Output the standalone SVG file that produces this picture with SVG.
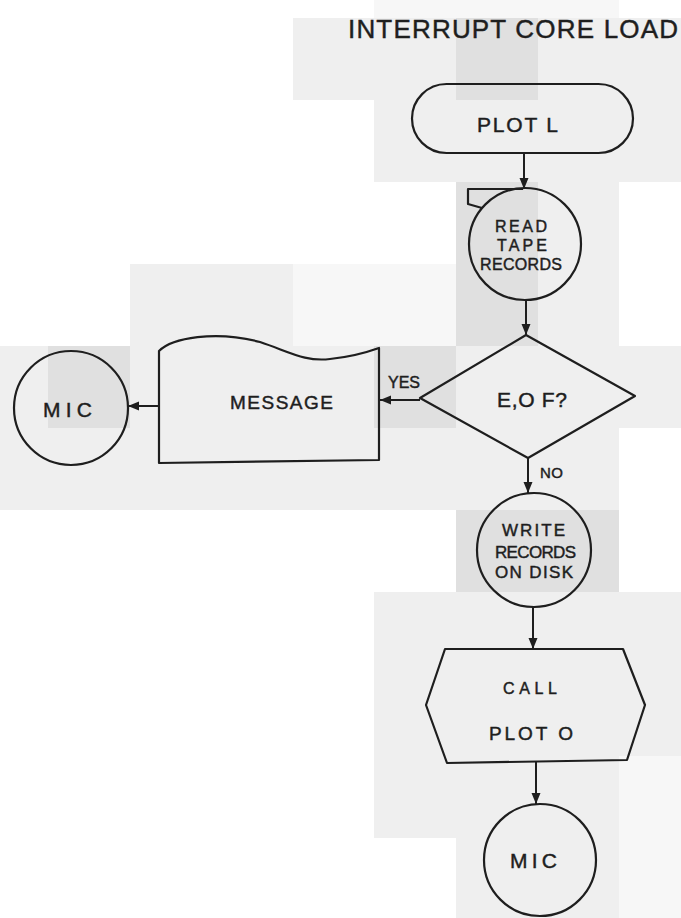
<svg xmlns="http://www.w3.org/2000/svg" width="681" height="918" viewBox="0 0 681 918">
<style>
.bg1{fill:#efefef}
.bg2{fill:#e0e0e0}
.bg3{fill:#f7f7f7}
.shape{fill:none;stroke:#1e1e1e;stroke-width:2.2;stroke-linejoin:round}
.conn{fill:none;stroke:#1e1e1e;stroke-width:2}
text{font-family:"Liberation Sans","DejaVu Sans",Arial,sans-serif;fill:#1e1e1e;stroke:#1e1e1e;stroke-width:0.45}
</style>
<defs>
<marker id="arr" markerUnits="userSpaceOnUse" markerWidth="12" markerHeight="12" viewBox="0 0 12 12" refX="11" refY="6" orient="auto">
<path d="M0,1.5 L11,6 L0,10.5 Z" fill="#1e1e1e"/>
</marker>
</defs>
<g id="background">
<rect class="bg3" x="374" y="0" width="245" height="18"/>
<rect class="bg1" x="293" y="18" width="388" height="82"/>
<rect class="bg2" x="456" y="18" width="82" height="82"/>
<rect class="bg1" x="374" y="100" width="307" height="82"/>
<rect class="bg1" x="538" y="182" width="81" height="164"/>
<rect class="bg2" x="456" y="182" width="82" height="164"/>
<rect class="bg1" x="130" y="264" width="163" height="82"/>
<rect class="bg3" x="293" y="264" width="163" height="82"/>
<rect class="bg1" x="0" y="346" width="681" height="82"/>
<rect class="bg2" x="48" y="346" width="82" height="82"/>
<rect class="bg2" x="374" y="346" width="82" height="82"/>
<rect class="bg1" x="0" y="428" width="619" height="82"/>
<rect class="bg2" x="456" y="510" width="163" height="82"/>
<rect class="bg1" x="374" y="592" width="307" height="164"/>
<rect class="bg1" x="374" y="756" width="245" height="82"/>
<rect class="bg3" x="619" y="756" width="62" height="162"/>
<rect class="bg1" x="456" y="838" width="163" height="80"/>
</g>
<g id="title">
<text x="348" y="38" font-size="26" textLength="330" lengthAdjust="spacing">INTERRUPT CORE LOAD</text>
</g>
<g id="plot-l">
<rect class="shape" x="412" y="84" width="221" height="69" rx="34.5"/>
<text x="477" y="132" font-size="21" textLength="81" lengthAdjust="spacing">PLOT L</text>
</g>
<g id="read-tape">
<circle class="shape" cx="525" cy="244" r="56"/>
<path class="shape" d="M523,189 L468,189 L468,204 L482,208"/>
<text x="495" y="232" font-size="16" textLength="52" lengthAdjust="spacing">READ</text>
<text x="497" y="251" font-size="16" textLength="50" lengthAdjust="spacing">TAPE</text>
<text x="480" y="270" font-size="16" textLength="82" lengthAdjust="spacing">RECORDS</text>
</g>
<g id="eof">
<path class="shape" d="M526,335 L635,396 L528,458 L420,398 Z"/>
<text x="497" y="407" font-size="21" textLength="70" lengthAdjust="spacing">E,O F?</text>
</g>
<g id="message">
<path class="shape" d="M159,351 C172,338 215,330 260,342 C290,352 305,362 330,359 C350,357 365,353 379,348 L379,460 L159,463 Z"/>
<text x="230" y="409" font-size="19" textLength="103" lengthAdjust="spacing">MESSAGE</text>
</g>
<g id="mic-left">
<circle class="shape" cx="71" cy="408" r="57"/>
<text x="43" y="417" font-size="21" textLength="49" lengthAdjust="spacing">MIC</text>
</g>
<g id="write-records">
<circle class="shape" cx="534" cy="550" r="57"/>
<text x="502" y="536" font-size="17" textLength="63" lengthAdjust="spacing">WRITE</text>
<text x="495" y="558" font-size="17" textLength="81" lengthAdjust="spacing">RECORDS</text>
<text x="495" y="578" font-size="17" textLength="78" lengthAdjust="spacing">ON DISK</text>
</g>
<g id="call-plot-o">
<path class="shape" d="M445,649 L623,649 L645,705 L627,760 L447,763 L426,705 Z"/>
<text x="503" y="694" font-size="16" textLength="54" lengthAdjust="spacing">CALL</text>
<text x="489" y="740" font-size="19" textLength="84" lengthAdjust="spacing">PLOT O</text>
</g>
<g id="mic-bottom">
<circle class="shape" cx="540" cy="860" r="56"/>
<text x="510" y="868" font-size="21" textLength="47" lengthAdjust="spacing">MIC</text>
</g>
<g id="connectors">
<line class="conn" x1="524" y1="153" x2="524" y2="189" marker-end="url(#arr)"/>
<line class="conn" x1="526" y1="300" x2="526" y2="335" marker-end="url(#arr)"/>
<line class="conn" x1="528" y1="458" x2="528" y2="493" marker-end="url(#arr)"/>
<line class="conn" x1="533" y1="607" x2="533" y2="649" marker-end="url(#arr)"/>
<line class="conn" x1="536" y1="762" x2="536" y2="804" marker-end="url(#arr)"/>
<line class="conn" x1="420" y1="400" x2="380" y2="400" marker-end="url(#arr)"/>
<line class="conn" x1="159" y1="406" x2="128" y2="406" marker-end="url(#arr)"/>
<text x="540" y="478" font-size="15" textLength="23" lengthAdjust="spacing">NO</text>
<text x="388" y="388" font-size="16" textLength="32" lengthAdjust="spacing">YES</text>
</g>
</svg>
